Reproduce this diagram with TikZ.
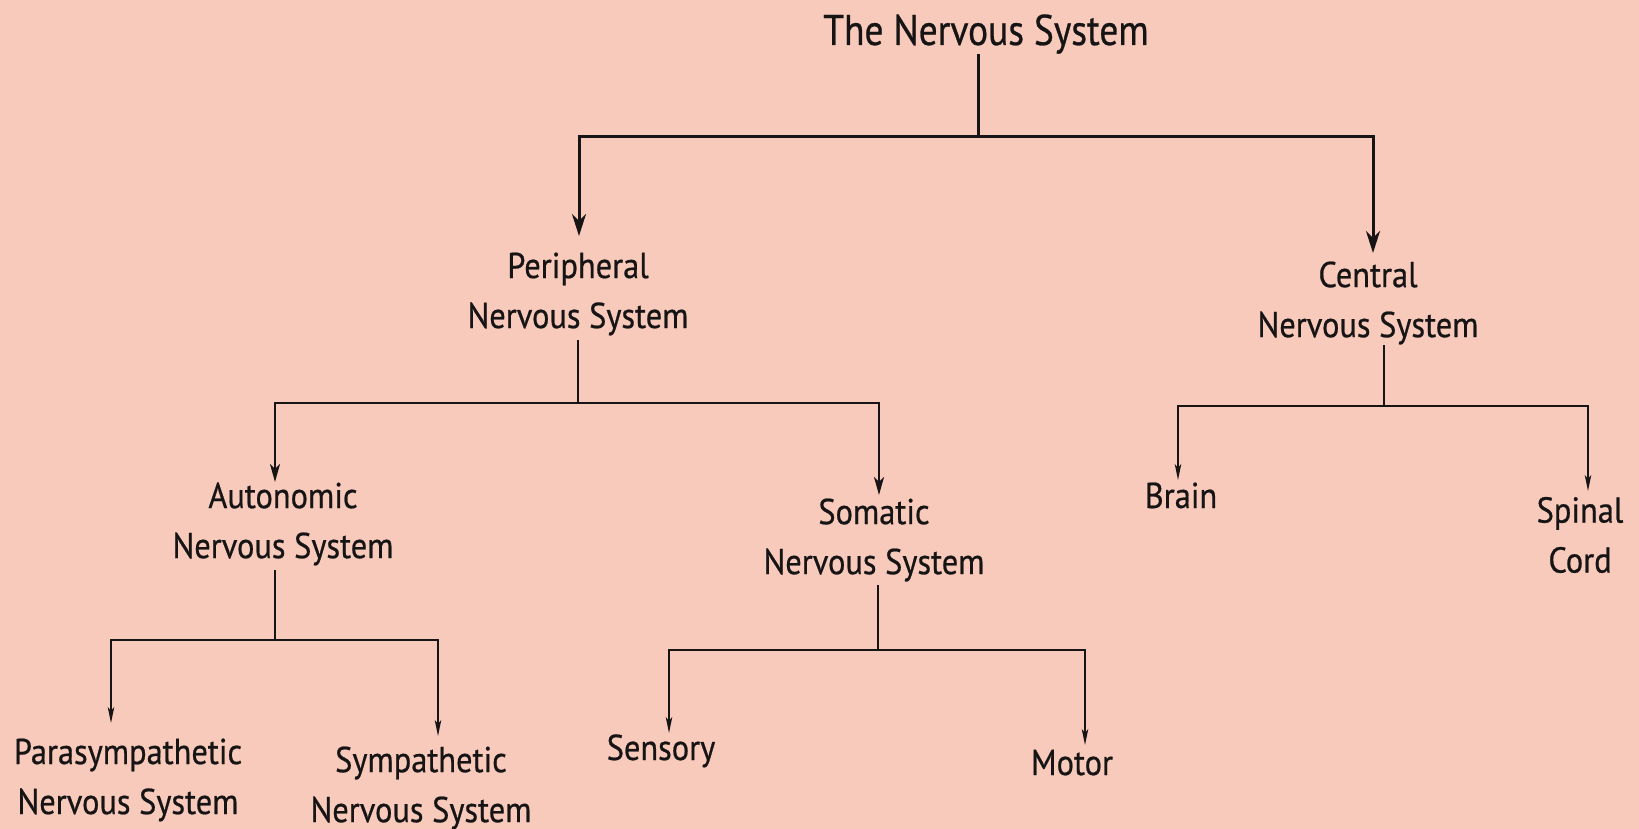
\documentclass[tikz,border=0pt]{standalone}
\usepackage{fontspec}
\setmainfont[FakeStretch=0.9, FakeBold=0.6]{PT Sans}
\newfontfamily\rootfont[FakeStretch=0.87, FakeBold=0.6]{PT Sans}
\usetikzlibrary{arrows.meta}
\definecolor{salmon_bg}{RGB}{248,202,188}
\definecolor{ink}{RGB}{22,20,20}

\begin{document}
\begin{tikzpicture}[
    x=1pt, y=-1pt,
    lbl/.style={text=ink, align=center, inner sep=0pt,
                font=\fontsize{36}{50}\selectfont},
    root/.style={lbl, font=\rootfont\fontsize{43}{50}\selectfont},
    link/.style={draw=ink, line width=1.7pt},
    arr/.style={link, -{Stealth[length=16pt, width=6.5pt, inset=4pt]}},
    biglink/.style={draw=ink, line width=3pt},
    bigarr/.style={biglink, -{Stealth[length=22pt, width=14pt, inset=7pt]}},
    midlink/.style={draw=ink, line width=2.3pt},
    midarr/.style={midlink, -{Stealth[length=18pt, width=10pt, inset=5pt]}}
]

    % background and page size
    \fill[salmon_bg] (0,0) rectangle (1639,829);
    \useasboundingbox (0,0) rectangle (1639,829);

    % Levels of the tree
    \node[root, anchor=base] (nsys) at ( 986,  45) {The Nervous System};
    \node[lbl]  (pns)    at ( 578, 294) {Peripheral\\Nervous System};
    \node[lbl]  (cns)    at (1368, 303) {Central\\Nervous System};
    \node[lbl]  (ans)    at ( 283, 524) {Autonomic\\Nervous System};
    \node[lbl]  (sns)    at ( 874, 540) {Somatic\\Nervous System};
    \node[lbl, anchor=base] (brain) at (1181, 508) {Brain};
    \node[lbl]  (spinal) at (1580, 535) {Spinal\\Cord};
    \node[lbl]  (para)   at ( 128, 780) {Parasympathetic\\Nervous System};
    \node[lbl]  (symp)   at ( 421, 788) {Sympathetic\\Nervous System};
    \node[lbl, anchor=base] (sens)  at ( 661, 760) {Sensory};
    \node[lbl, anchor=base] (motor) at (1072, 775) {Motor};

    % Forks
    \coordinate (nfork) at ( 978, 137);
    \coordinate (pfork) at ( 578, 403);
    \coordinate (cfork) at (1384, 406);
    \coordinate (afork) at ( 275, 640);
    \coordinate (sfork) at ( 878, 650);

    % The Nervous System -> Peripheral, Central
    \draw[biglink] (nsys.south -| nfork) -- (nfork);
    \draw[bigarr] (nfork) -| ([xshift=1pt, yshift=58pt]pns.center);
    \draw[bigarr] (nfork) -| ([xshift=5pt, yshift=50pt]cns.center);

    % Peripheral -> Autonomic, Somatic
    \draw[midlink] ([yshift=-46pt]pns.center) -- (pfork);
    \draw[midarr] (pfork) -| ([xshift=-8pt, yshift=42pt]ans.center);
    \draw[midarr] (pfork) -| ([xshift=5pt, yshift=45pt]sns.center);

    % Central -> Brain, Spinal Cord
    \draw[link] ([xshift=16pt, yshift=-42pt]cns.center) -- (cfork);
    \draw[arr] (cfork) -| ([xshift=-3pt, yshift=28pt]brain.base);
    \draw[arr] (cfork) -| ([xshift=8pt, yshift=44pt]spinal.center);

    % Autonomic -> Parasympathetic, Sympathetic
    \draw[link] ([xshift=-8pt, yshift=-46pt]ans.center) -- (afork);
    \draw[arr] (afork) -| ([xshift=-17pt, yshift=57pt]para.center);
    \draw[arr] (afork) -| ([xshift=17pt, yshift=52pt]symp.center);

    % Somatic -> Sensory, Motor
    \draw[link] ([xshift=4pt, yshift=-45pt]sns.center) -- (sfork);
    \draw[arr] (sfork) -| ([xshift=8pt, yshift=27pt]sens.base);
    \draw[arr] (sfork) -| ([xshift=13pt, yshift=30pt]motor.base);

\end{tikzpicture}
\end{document}
